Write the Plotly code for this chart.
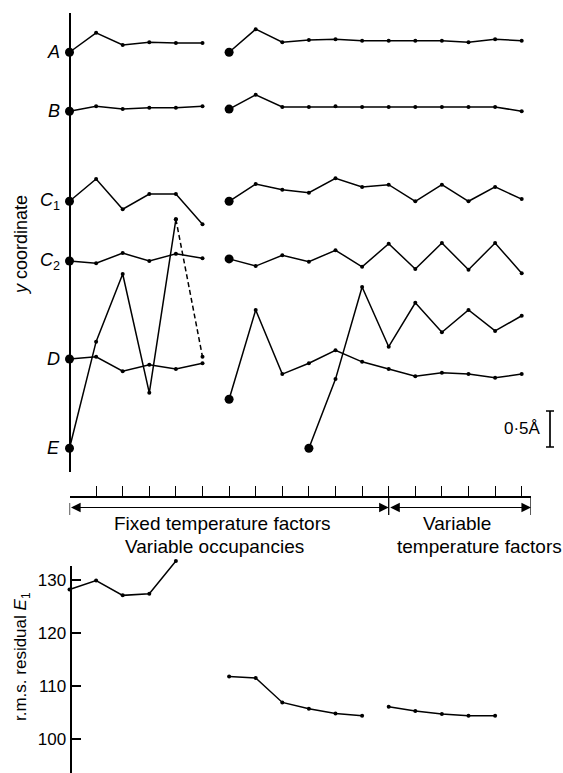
import plotly.graph_objects as go

# ---------------- data ----------------
# refinement cycle index
cycles_1 = [0, 1, 2, 3, 4, 5]
cycles_2 = [6, 7, 8, 9, 10, 11, 12, 13, 14, 15, 16, 17]
cycles_E2 = [9, 10, 11, 12, 13, 14, 15, 16, 17]

# y coordinate (Å, arbitrary common origin)
A_1 = [5.83, 6.10, 5.93, 5.97, 5.96, 5.96]
A_2 = [5.83, 6.15, 5.97, 6.00, 6.01, 5.99, 5.99, 5.99, 5.99, 5.97, 6.01, 5.99]
B_1 = [5.01, 5.08, 5.04, 5.06, 5.06, 5.08]
B_2 = [5.04, 5.24, 5.07, 5.07, 5.08, 5.07, 5.07, 5.07, 5.07, 5.07, 5.07, 5.01]
C1_1 = [3.76, 4.07, 3.65, 3.86, 3.86, 3.44]
C1_2 = [3.76, 4.00, 3.92, 3.88, 4.08, 3.96, 3.99, 3.76, 3.99, 3.76, 3.96, 3.79]
C2_1 = [2.93, 2.90, 3.04, 2.93, 3.03, 2.97]
C2_2 = [2.96, 2.86, 3.01, 2.92, 3.08, 2.85, 3.17, 2.82, 3.18, 2.81, 3.18, 2.76]
D_1 = [1.57, 1.60, 1.40, 1.49, 1.43, 1.51]
D_2 = [1.01, 2.25, 1.36, 1.51, 1.69, 1.53, 1.43, 1.33, 1.38, 1.36, 1.31, 1.36]
E_1 = [0.33, 1.81, 2.75, 1.10, 3.51, 1.60]
E_2 = [0.33, 1.29, 2.57, 1.74, 2.35, 1.94, 2.25, 1.96, 2.17]

atom_labels = ["<i>A</i>", "<i>B</i>", "<i>C</i><sub>1</sub>", "<i>C</i><sub>2</sub>",
               "<i>D</i>", "<i>E</i>"]

# r.m.s. residual E1
rms_cycles_1 = [0, 1, 2, 3, 4]
rms_1 = [128.2, 129.9, 127.1, 127.4, 133.6]
rms_cycles_2 = [6, 7, 8, 9, 10, 11]
rms_2 = [111.8, 111.5, 106.9, 105.7, 104.8, 104.4]
rms_cycles_3 = [12, 13, 14, 15, 16]
rms_3 = [106.1, 105.3, 104.7, 104.4, 104.4]
rms_ticks = [100, 110, 120, 130]

phase_bounds = [0, 12, 17.35]
phase_ticks = list(range(1, 18))
scale_bar_len = 0.5   # Å

# ---------------- figure ----------------
W, H = 563, 773
X0, DX = 69.5, 26.6          # pixel of cycle 0, pixels per cycle
FONT = "Liberation Sans, Arial, sans-serif"
LW = 1.5

def px(xp):
    return xp / W

def py(yp):
    return 1 - yp / H

fig = go.Figure()

def seg(x, y, yaxis="y", dash="solid", big_first=True):
    sizes = [4] * len(x)
    if big_first:
        sizes[0] = 9
    fig.add_trace(go.Scatter(
        x=x, y=y, xaxis="x", yaxis=yaxis, mode="lines+markers",
        line=dict(color="black", width=LW, dash=dash),
        marker=dict(color="#000000", size=sizes, opacity=1, line=dict(width=0)),
        cliponaxis=False, showlegend=False, hoverinfo="skip"))

series = [(A_1, A_2, cycles_2), (B_1, B_2, cycles_2), (C1_1, C1_2, cycles_2),
          (C2_1, C2_2, cycles_2), (D_1, D_2, cycles_2)]
for s1, s2, c2 in series:
    seg(cycles_1, s1)
    seg(c2, s2)

# atom E: solid then dashed last step
seg(cycles_1[:5], E_1[:5])
fig.add_trace(go.Scatter(
    x=cycles_1[4:], y=E_1[4:], mode="lines+markers",
    line=dict(color="black", width=LW, dash="5px,3px"),
    marker=dict(color="#000000", size=4, line=dict(width=0)), cliponaxis=False,
    showlegend=False, hoverinfo="skip"))
seg(cycles_E2, E_2)

# scale bar 0.5 Å
bar_x = (550 - X0) / DX
bar_mid = (472 - 429) / 72
fig.add_trace(go.Scatter(
    x=[bar_x], y=[bar_mid], mode="markers",
    marker=dict(size=0.1, color="black"),
    error_y=dict(type="data", array=[scale_bar_len / 2], symmetric=True,
                 color="black", thickness=1.7, width=4),
    cliponaxis=False, showlegend=False, hoverinfo="skip"))

# residual panel
for c, r in [(rms_cycles_1, rms_1), (rms_cycles_2, rms_2), (rms_cycles_3, rms_3)]:
    fig.add_trace(go.Scatter(
        x=c, y=r, xaxis="x", yaxis="y3", mode="lines+markers",
        line=dict(color="black", width=LW),
        marker=dict(color="#000000", size=4, line=dict(width=0)),
        cliponaxis=False, showlegend=False, hoverinfo="skip"))

# invisible traces to activate the residual axis and the tick-strip axes
fig.add_trace(go.Scatter(x=[0], y=[110], xaxis="x", yaxis="y2", mode="markers",
                         marker=dict(size=0.1, color="rgba(0,0,0,0)"),
                         showlegend=False, hoverinfo="skip"))
fig.add_trace(go.Scatter(x=[0], y=[0], xaxis="x2", yaxis="y4", mode="markers",
                         marker=dict(size=0.1, color="rgba(0,0,0,0)"),
                         showlegend=False, hoverinfo="skip"))

rms_per_px = 1 / 5.3
rms_bottom = 130 - (H - 580) * rms_per_px

STRIP_BOT = 540   # pixel row of the strip-axis domain bottom
fig.update_layout(
    width=W, height=H, margin=dict(l=0, r=0, t=0, b=0),
    paper_bgcolor="white", plot_bgcolor="rgba(0,0,0,0)",
    font=dict(family=FONT, color="black", size=18),
    xaxis=dict(domain=[0, 1], range=[-X0 / DX, (W - X0) / DX], visible=False),
    yaxis=dict(domain=[py(472), py(13)], range=[0, (472 - 13) / 72],
               anchor="free", position=px(X0), showline=True, linecolor="black",
               linewidth=1.8, showticklabels=False, ticks="", showgrid=False,
               zeroline=False),
    yaxis2=dict(domain=[0, py(566)], range=[rms_bottom, 130 + 14 * rms_per_px],
                anchor="free", position=px(70.5), showline=True, linecolor="black",
                linewidth=1.8, ticks="inside", ticklen=10, tickwidth=1.5,
                tickcolor="black", tickvals=rms_ticks, showgrid=False,
                zeroline=False, tickfont=dict(size=17, family=FONT)),
    yaxis3=dict(domain=[0, py(550)], range=[rms_bottom, 130 + 30 * rms_per_px],
                anchor="x", visible=False),
    xaxis2=dict(domain=[px(X0), px(X0 + 17.35 * DX)], range=[0, 17.35],
                anchor="y4", side="top", showline=True, linecolor="black",
                linewidth=1.8, ticks="outside", ticklen=10, tickwidth=1.3,
                tickcolor="black", tickvals=phase_ticks, showticklabels=False,
                showgrid=False, zeroline=False),
    yaxis4=dict(domain=[py(STRIP_BOT), py(498)], range=[0, STRIP_BOT - 498],
                anchor="x2", showline=False, showticklabels=False, ticks="",
                showgrid=False, zeroline=False),
)

ann = []
all_first = [A_1[0], B_1[0], C1_1[0], C2_1[0], D_1[0], E_1[0]]
for lab, v in zip(atom_labels, all_first):
    ann.append(dict(x=(61.5 - X0) / DX, y=v, xref="x", yref="y", text=lab,
                    showarrow=False, xanchor="right", yanchor="middle",
                    font=dict(size=18)))

def ptext(x, y, text, size=19, angle=0, xanchor="center"):
    ann.append(dict(x=px(x), y=py(y), xref="paper", yref="paper", text=text,
                    textangle=angle, showarrow=False, xanchor=xanchor,
                    yanchor="middle", font=dict(size=size)))

ptext(21, 245, "<i>y</i> coordinate", size=18, angle=-90)
ptext(22, 657, "r.m.s. residual <i>E</i><sub>1</sub>", size=17, angle=-90)
ptext(543, 429, "0·5Å", size=17, xanchor="right")
ptext(222, 523, "Fixed temperature factors")
ptext(214, 546, "Variable occupancies")
ptext(457, 523, "Variable")
ptext(480, 546, "temperature factors")

arrow_y = STRIP_BOT - 507.5
for a, b in [(phase_bounds[0], phase_bounds[1]), (phase_bounds[1], phase_bounds[2])]:
    ann.append(dict(x=b, y=arrow_y, ax=a, ay=arrow_y, xref="x2", yref="y4",
                    axref="x2", ayref="y4", text="", showarrow=True,
                    arrowhead=2, arrowside="end+start", arrowsize=1.6,
                    arrowwidth=1.2, arrowcolor="black", standoff=0, startstandoff=0))
fig.update_layout(annotations=ann)

shapes = []
for i, b in enumerate(phase_bounds):
    top = STRIP_BOT - (498 if i > 0 else 503)
    shapes.append(dict(type="line", xref="x2", yref="y4", x0=b, x1=b,
                       y0=top, y1=STRIP_BOT - 515,
                       line=dict(color="black", width=1.3)))
fig.update_layout(shapes=shapes)

fig.write_html("out.html")
